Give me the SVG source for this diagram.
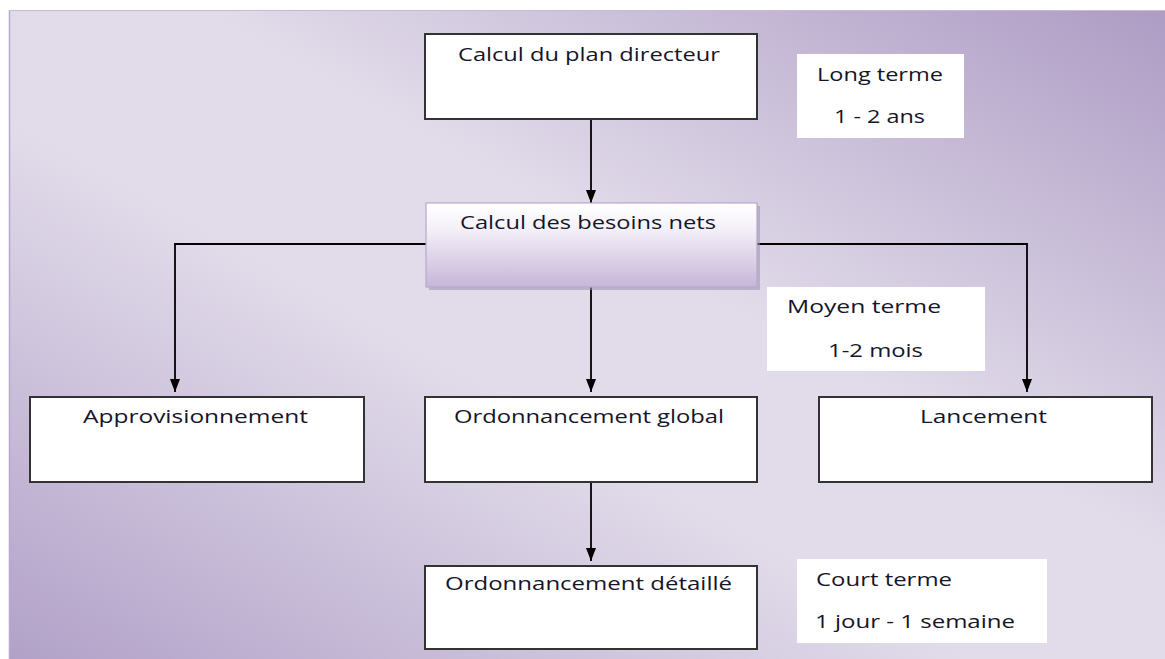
<svg xmlns="http://www.w3.org/2000/svg" width="1165" height="659" viewBox="0 0 1165 659">
  <defs>
    <!-- reflected diagonal backdrop: dark corners top-right / bottom-left, light band along the main diagonal -->
    <linearGradient id="bg" x1="1" y1="0" x2="0" y2="1">
      <stop offset="0" stop-color="#ad9cc4"/>
      <stop offset="0.42" stop-color="#e2dcea"/>
      <stop offset="0.58" stop-color="#e2dcea"/>
      <stop offset="1" stop-color="#b1a1c8"/>
    </linearGradient>
    <linearGradient id="soft" x1="0" y1="0" x2="0" y2="1">
      <stop offset="0" stop-color="#ffffff"/>
      <stop offset="0.3" stop-color="#f4f1f8"/>
      <stop offset="1" stop-color="#c6b6d8"/>
    </linearGradient>
    <marker id="arrow" markerWidth="13" markerHeight="10" refX="13" refY="5" orient="auto" markerUnits="userSpaceOnUse">
      <path d="M0,0 L13,5 L0,10 Z" fill="#000"/>
    </marker>
    <style>
      .box { fill: #ffffff; stroke: #333333; stroke-width: 2; }
      .tag { fill: #ffffff; stroke: none; }
      .lbl { font-family: "Open Sans", "Liberation Sans", sans-serif; font-size: 19px; font-weight: 500; fill: #15152a; }
      .wire { fill: none; stroke: #000; stroke-width: 1.8; }
      .arr { marker-end: url(#arrow); }
    </style>
  </defs>

  <!-- backdrop panel -->
  <rect x="0" y="0" width="1165" height="659" fill="#ffffff"/>
  <rect x="9" y="10" width="1156" height="649" fill="url(#bg)"/>
  <line x1="9.5" y1="10" x2="9.5" y2="659" stroke="#b8a9cc" stroke-width="1.5"/>
  <line x1="9" y1="10.5" x2="1165" y2="10.5" stroke="#c6bbd6" stroke-width="1"/>

  <!-- connectors -->
  <g id="connectors">
    <line class="wire arr" x1="591" y1="119" x2="591" y2="203"/>
    <polyline class="wire arr" points="426,244 175,244 175,392"/>
    <polyline class="wire arr" points="757,244 1027,244 1027,392"/>
    <line class="wire arr" x1="591" y1="287" x2="591" y2="392"/>
    <line class="wire arr" x1="591" y1="482" x2="591" y2="561"/>
  </g>

  <g id="plan-directeur">
    <rect class="box" x="425" y="34" width="332" height="85"/>
    <text class="lbl" x="458" y="61" textLength="262" lengthAdjust="spacingAndGlyphs">Calcul du plan directeur</text>
  </g>

  <g id="besoins-nets">
    <rect x="429" y="206" width="331" height="84" fill="#9d8fae" opacity="0.55"/>
    <rect x="426" y="203" width="331" height="84" fill="url(#soft)" stroke="#b8a8cb" stroke-width="1.2"/>
    <text class="lbl" x="460" y="229" textLength="256" lengthAdjust="spacingAndGlyphs">Calcul des besoins nets</text>
  </g>

  <g id="approvisionnement">
    <rect class="box" x="30" y="397" width="334" height="85"/>
    <text class="lbl" x="83" y="423" textLength="225" lengthAdjust="spacingAndGlyphs">Approvisionnement</text>
  </g>

  <g id="ordonnancement-global">
    <rect class="box" x="425" y="397" width="332" height="85"/>
    <text class="lbl" x="454" y="423" textLength="270" lengthAdjust="spacingAndGlyphs">Ordonnancement global</text>
  </g>

  <g id="lancement">
    <rect class="box" x="819" y="397" width="333" height="85"/>
    <text class="lbl" x="920" y="423" textLength="127" lengthAdjust="spacingAndGlyphs">Lancement</text>
  </g>

  <g id="ordonnancement-detaille">
    <rect class="box" x="425" y="566" width="332" height="83"/>
    <text class="lbl" x="445" y="590" textLength="287" lengthAdjust="spacingAndGlyphs">Ordonnancement détaillé</text>
  </g>

  <g id="long-terme">
    <rect class="tag" x="797" y="54" width="167" height="84"/>
    <text class="lbl" x="817" y="81" textLength="126" lengthAdjust="spacingAndGlyphs">Long terme</text>
    <text class="lbl" x="834" y="123" textLength="91" lengthAdjust="spacingAndGlyphs">1 - 2 ans</text>
  </g>

  <g id="moyen-terme">
    <rect class="tag" x="767" y="287" width="218" height="84"/>
    <text class="lbl" x="787" y="313" textLength="154" lengthAdjust="spacingAndGlyphs">Moyen terme</text>
    <text class="lbl" x="828" y="357" textLength="95" lengthAdjust="spacingAndGlyphs">1-2 mois</text>
  </g>

  <g id="court-terme">
    <rect class="tag" x="797" y="559" width="250" height="84"/>
    <text class="lbl" x="816" y="586" textLength="136" lengthAdjust="spacingAndGlyphs">Court terme</text>
    <text class="lbl" x="815" y="628" textLength="200" lengthAdjust="spacingAndGlyphs">1 jour - 1 semaine</text>
  </g>
</svg>
